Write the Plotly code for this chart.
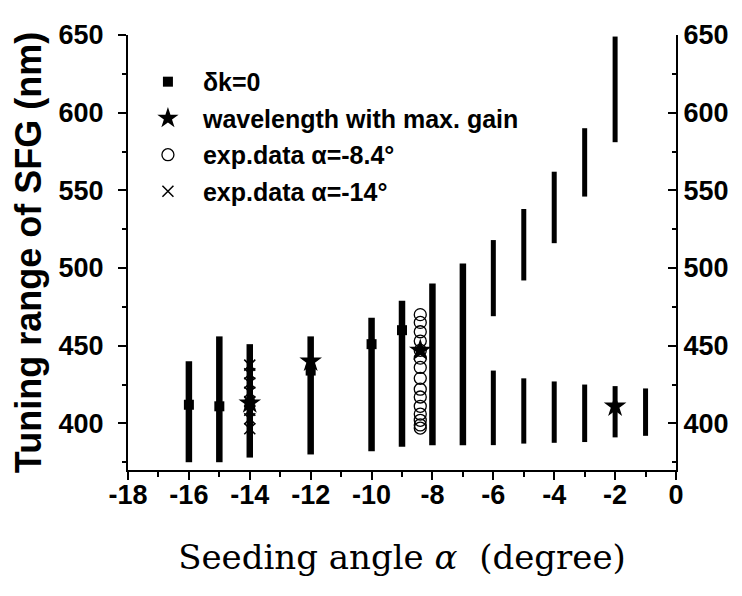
import plotly.graph_objects as go

# ---- data ----
# continuous tuning ranges (thick bars)
bar_angle = [-16, -15, -14, -12, -10, -9, -8, -7]
bar_low = [375, 375, 378, 380, 382, 385, 386, 386]
bar_high = [440, 456, 451, 456, 468, 479, 490, 503]

# split tuning ranges (thinner bars): lower and upper branch
split_angle = [-6, -5, -4, -3, -2, -1]
split_low_lo = [386, 387, 387.5, 388, 391, 392]
split_low_hi = [434, 429, 427, 425, 424, 422.5]
upper_angle = [-6, -5, -4, -3, -2]
split_up_lo = [469, 492, 516, 546, 581]
split_up_hi = [518, 538, 562, 590, 649]

# delta k = 0
dk_angle = [-16, -15, -14, -12, -10, -9]
dk_wl = [412, 411, 413, 434, 451, 460]

# wavelength with max. gain
gain_angle = [-14, -12, -8.4, -2]
gain_wl = [413, 440, 447, 411]

# experimental data alpha = -8.4
exp84_wl = [470, 465, 459, 453, 447, 442, 436, 429, 422, 417, 411, 406, 402, 399, 397]
exp84_angle = [-8.4] * len(exp84_wl)

# experimental data alpha = -14
exp14_wl = [437.5, 432, 426, 420, 414, 408.5, 403, 396.5]
exp14_angle = [-14] * len(exp14_wl)

x_ticks = [-18, -16, -14, -12, -10, -8, -6, -4, -2, 0]
y_ticks = [400, 450, 500, 550, 600, 650]


def segments(xs, lo, hi):
    X, Y = [], []
    for x, a, b in zip(xs, lo, hi):
        X += [x, x, None]
        Y += [a, b, None]
    return X, Y


fig = go.Figure()

bx, by = segments(bar_angle, bar_low, bar_high)
fig.add_trace(go.Scatter(x=bx, y=by, mode="lines", line=dict(color="black", width=6.5),
                         showlegend=False, hoverinfo="skip"))
sx, sy = segments(split_angle, split_low_lo, split_low_hi)
ux, uy = segments(upper_angle, split_up_lo, split_up_hi)
fig.add_trace(go.Scatter(x=sx + ux, y=sy + uy, mode="lines", line=dict(color="black", width=5),
                         showlegend=False, hoverinfo="skip"))

fig.add_trace(go.Scatter(x=exp84_angle, y=exp84_wl, mode="markers", name="exp.data α=-8.4°",
                         legendgroup="c", legendrank=3,
                         marker=dict(symbol="circle-open", size=12, color="black", line=dict(width=1.3))))
fig.add_trace(go.Scatter(x=exp14_angle, y=exp14_wl, mode="markers", name="exp.data α=-14°",
                         legendgroup="d", legendrank=4,
                         marker=dict(symbol="x-thin-open", size=11, color="black", line=dict(width=1.5))))
fig.add_trace(go.Scatter(x=dk_angle, y=dk_wl, mode="markers", name="δk=0",
                         legendgroup="a", legendrank=1,
                         marker=dict(symbol="square", size=10, color="black")))
fig.add_trace(go.Scatter(x=gain_angle, y=gain_wl, mode="markers", name="wavelength with max. gain",
                         legendgroup="b", legendrank=2,
                         marker=dict(symbol="star", size=17, color="black")))

# invisible trace to activate right axis
fig.add_trace(go.Scatter(x=[None], y=[None], yaxis="y2", showlegend=False, hoverinfo="skip"))

tickfont = dict(family="Liberation Sans, Arial", size=27, color="black", weight="bold")

fig.update_layout(
    width=734, height=588,
    margin=dict(l=120, r=66, t=27, b=126, autoexpand=False),
    paper_bgcolor="white", plot_bgcolor="white",
    showlegend=True,
    legend=dict(x=0.009, y=0.945, xanchor="left", yanchor="top", itemwidth=60,
                font=dict(family="Liberation Sans, Arial", size=25, color="black", weight="bold"),
                bgcolor="rgba(0,0,0,0)", tracegroupgap=1, traceorder="grouped"),
    xaxis=dict(range=[-18, 0], tickvals=x_ticks, ticktext=[str(v) for v in x_ticks],
               automargin=False,
               showgrid=False, zeroline=False, showline=True, linecolor="black", linewidth=2,
               ticks="outside", ticklen=8, tickwidth=2, tickcolor="black",
               minor=dict(dtick=1, tick0=-17, ticks="outside", ticklen=5, tickwidth=1.5, tickcolor="black"),
               tickfont=tickfont, ticklabelstandoff=-8,
               title=dict(text="Seeding angle <i>α</i>  (degree)",
                          font=dict(family="DejaVu Serif", size=34, color="black"), standoff=36)),
    yaxis=dict(range=[370, 650], tickvals=y_ticks, showgrid=False, zeroline=False,
               automargin=False,
               showline=True, linecolor="black", linewidth=2,
               ticks="outside", ticklen=8, tickwidth=2, tickcolor="black",
               minor=dict(dtick=25, tick0=375, ticks="outside", ticklen=4, tickwidth=1.5, tickcolor="black"),
               tickfont=tickfont, ticklabelstandoff=9,
               title=dict(text="Tuning range of SFG (nm)",
                          font=dict(family="Liberation Sans, Arial", size=36, color="black", weight="bold"),
                          standoff=20)),
    yaxis2=dict(range=[370, 650], tickvals=y_ticks, overlaying="y", side="right",
                automargin=False,
                showgrid=False, zeroline=False, showline=True, linecolor="black", linewidth=2,
                ticks="inside", ticklen=8, tickwidth=2, tickcolor="black",
                minor=dict(dtick=25, tick0=375, ticks="inside", ticklen=4, tickwidth=1.5, tickcolor="black"),
                tickfont=tickfont),
)

fig.write_html("out.html")
